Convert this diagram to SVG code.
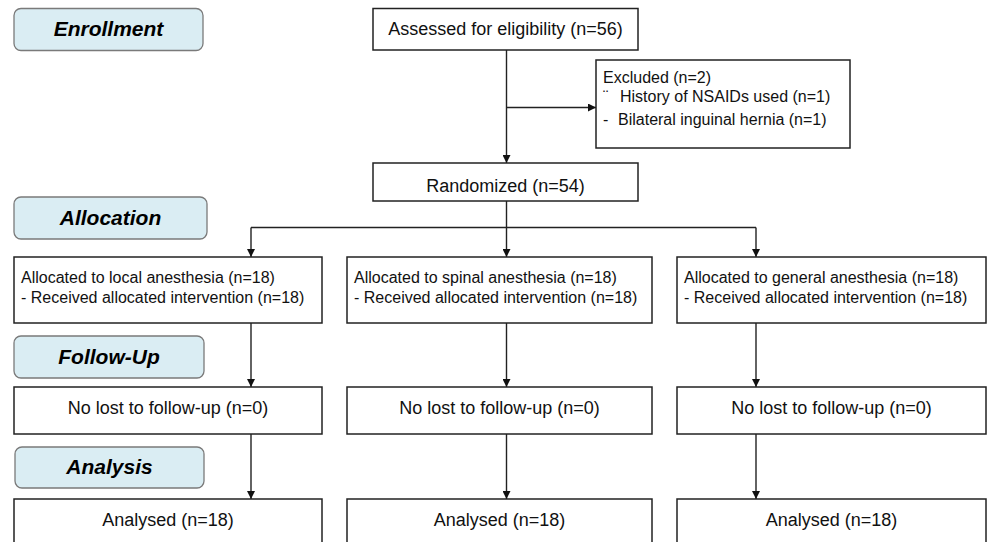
<svg xmlns="http://www.w3.org/2000/svg" width="992" height="542" viewBox="0 0 992 542">
<defs>
<style>
.lab{fill:#daedf3;stroke:#7a7a7a;stroke-width:1.3}
.box{fill:#fff;stroke:#222;stroke-width:1.5}
.lt{font-family:"Liberation Sans",Arial,sans-serif;font-weight:bold;font-style:italic;font-size:21px;fill:#000;text-anchor:middle}
.t{font-family:"Liberation Sans",Arial,sans-serif;font-size:16px;fill:#111}
.c{text-anchor:middle;font-size:18px}
.ln{fill:none;stroke:#222;stroke-width:1.4}
</style>
<marker id="ah" viewBox="0 0 10 10" refX="10" refY="5" markerWidth="8" markerHeight="8" markerUnits="userSpaceOnUse" orient="auto">
<path d="M0,0 L10,5 L0,10 z" fill="#111"/>
</marker>
</defs>
<rect width="992" height="542" fill="#fff"/>

<g id="connectors">
<line class="ln" x1="506.5" y1="50" x2="506.5" y2="163" marker-end="url(#ah)"/>
<line class="ln" x1="506.5" y1="107.5" x2="596" y2="107.5" marker-end="url(#ah)"/>
<polyline class="ln" points="506.5,201 506.5,227.5"/>
<line class="ln" x1="251" y1="227.5" x2="756" y2="227.5"/>
<line class="ln" x1="251" y1="227.5" x2="251" y2="257" marker-end="url(#ah)"/>
<line class="ln" x1="506.5" y1="227.5" x2="506.5" y2="257" marker-end="url(#ah)"/>
<line class="ln" x1="756" y1="227.5" x2="756" y2="257" marker-end="url(#ah)"/>
<line class="ln" x1="251" y1="323" x2="251" y2="387" marker-end="url(#ah)"/>
<line class="ln" x1="506.5" y1="323" x2="506.5" y2="387" marker-end="url(#ah)"/>
<line class="ln" x1="756" y1="323" x2="756" y2="387" marker-end="url(#ah)"/>
<line class="ln" x1="251" y1="434" x2="251" y2="499" marker-end="url(#ah)"/>
<line class="ln" x1="506.5" y1="434" x2="506.5" y2="499" marker-end="url(#ah)"/>
<line class="ln" x1="756" y1="434" x2="756" y2="499" marker-end="url(#ah)"/>
</g>

<g id="label-enrollment"><rect class="lab" x="14" y="8.5" width="189" height="42" rx="7"/><text class="lt" x="108.5" y="36">Enrollment</text></g>
<g id="label-allocation"><rect class="lab" x="14" y="197" width="193" height="42" rx="7"/><text class="lt" x="110.5" y="225">Allocation</text></g>
<g id="label-followup"><rect class="lab" x="14" y="336" width="190" height="42" rx="7"/><text class="lt" x="109" y="364">Follow-Up</text></g>
<g id="label-analysis"><rect class="lab" x="15" y="447" width="189" height="41" rx="7"/><text class="lt" x="109.5" y="474">Analysis</text></g>

<g id="assessed"><rect class="box" x="373" y="8.5" width="265" height="41.5"/><text class="t c" x="505.5" y="35">Assessed for eligibility (n=56)</text></g>
<g id="excluded"><rect class="box" x="596" y="60" width="254" height="88"/>
<text class="t" x="603" y="83">Excluded (n=2)</text>
<text class="t" y="102"><tspan x="603">¨</tspan><tspan x="620">History of NSAIDs used (n=1)</tspan></text>
<text class="t" y="125"><tspan x="603">-</tspan><tspan x="618">Bilateral inguinal hernia (n=1)</tspan></text>
</g>
<g id="randomized"><rect class="box" x="373" y="163" width="265" height="38"/><text class="t c" x="505.5" y="192">Randomized (n=54)</text></g>

<g id="alloc-local"><rect class="box" x="14" y="257" width="308" height="66"/><text class="t" x="21" y="283">Allocated to local anesthesia (n=18)</text><text class="t" x="21" y="303">- Received allocated intervention (n=18)</text></g>
<g id="alloc-spinal"><rect class="box" x="347" y="257" width="305" height="66"/><text class="t" x="354" y="283">Allocated to spinal anesthesia (n=18)</text><text class="t" x="354" y="303">- Received allocated intervention (n=18)</text></g>
<g id="alloc-general"><rect class="box" x="677" y="257" width="309" height="66"/><text class="t" x="684" y="283">Allocated to general anesthesia (n=18)</text><text class="t" x="684" y="303">- Received allocated intervention (n=18)</text></g>

<g id="fu-local"><rect class="box" x="14" y="387" width="308" height="47"/><text class="t c" x="168" y="414">No lost to follow-up (n=0)</text></g>
<g id="fu-spinal"><rect class="box" x="347" y="387" width="305" height="47"/><text class="t c" x="499.5" y="414">No lost to follow-up (n=0)</text></g>
<g id="fu-general"><rect class="box" x="677" y="387" width="309" height="47"/><text class="t c" x="831.5" y="414">No lost to follow-up (n=0)</text></g>

<g id="an-local"><rect class="box" x="14" y="499" width="308" height="60"/><text class="t c" x="168" y="526">Analysed (n=18)</text></g>
<g id="an-spinal"><rect class="box" x="347" y="499" width="305" height="60"/><text class="t c" x="499.5" y="526">Analysed (n=18)</text></g>
<g id="an-general"><rect class="box" x="677" y="499" width="309" height="60"/><text class="t c" x="831.5" y="526">Analysed (n=18)</text></g>
</svg>
